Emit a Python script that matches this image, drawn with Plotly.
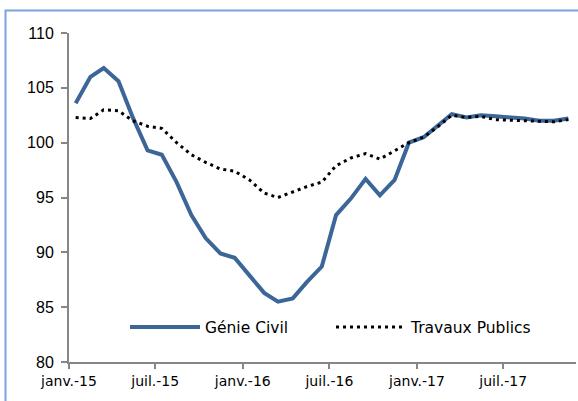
import plotly.graph_objects as go
import pandas as pd

months = pd.date_range("2015-01-01", periods=35, freq="MS") + pd.Timedelta(days=14)
months = [d.strftime("%Y-%m-%d") for d in months]

genie_civil = [103.6, 106.0, 106.8, 105.6, 102.3, 99.3, 98.9, 96.4, 93.4, 91.3,
               89.9, 89.5, 87.9, 86.3, 85.5, 85.8, 87.3, 88.7, 93.4, 94.9,
               96.7, 95.2, 96.6, 100.0, 100.5, 101.6, 102.6, 102.3, 102.5, 102.4,
               102.3, 102.2, 102.0, 102.0, 102.2]
travaux_publics = [102.3, 102.2, 103.0, 102.9, 102.0, 101.5, 101.3, 100.0, 98.9, 98.2,
                   97.6, 97.4, 96.6, 95.4, 95.0, 95.5, 96.0, 96.4, 97.9, 98.6,
                   99.0, 98.5, 99.3, 100.0, 100.5, 101.5, 102.5, 102.3, 102.4, 102.1,
                   102.05, 102.0, 101.9, 101.9, 102.1]

tick_vals = ["2015-01-01", "2015-07-01", "2016-01-01", "2016-07-01", "2017-01-01", "2017-07-01"]
tick_text = ["janv.-15", "juil.-15", "janv.-16", "juil.-16", "janv.-17", "juil.-17"]
y_ticks = [80, 85, 90, 95, 100, 105, 110]

fig = go.Figure()
fig.add_trace(go.Scatter(x=months, y=genie_civil, mode="lines", name="Génie Civil",
                         line=dict(color="#3c6697", width=4)))
fig.add_trace(go.Scatter(x=months, y=travaux_publics, mode="lines", name="Travaux Publics",
                         line=dict(color="#000000", width=3, dash="3px,4px")))

L, R, T, B = 69, 2, 33, 39
W, H = 578, 401
pw, ph = W - L - R, H - T - B

fig.update_layout(
    width=W, height=H,
    margin=dict(l=L, r=R, t=T, b=B, pad=0),
    paper_bgcolor="white", plot_bgcolor="white",
    showlegend=True,
    legend=dict(orientation="h", x=(131 - L - 6) / pw, xanchor="left", y=0.105, yanchor="middle",
                font=dict(family="DejaVu Sans", size=15.5, color="#000"),
                itemwidth=70, entrywidth=121, entrywidthmode="pixels",
                bgcolor="rgba(0,0,0,0)", tracegroupgap=0),
    xaxis=dict(type="date", range=["2015-01-01", "2017-12-01"],
               tickvals=tick_vals, ticktext=tick_text,
               ticks="outside", ticklen=5, tickwidth=2, tickcolor="#868686",
               showline=True, linecolor="#868686", linewidth=2,
               showgrid=False, zeroline=False,
               tickfont=dict(family="DejaVu Sans", size=14, color="#000")),
    yaxis=dict(range=[80, 110], tickvals=y_ticks,
               ticks="outside", ticklen=6, tickwidth=2, tickcolor="#868686",
               showline=True, linecolor="#868686", linewidth=2,
               showgrid=False, zeroline=False, ticklabelstandoff=4,
               tickfont=dict(family="Liberation Sans, Arial", size=16, color="#000")),
    shapes=[dict(type="rect", xref="paper", yref="paper",
                 x0=(5.5 - L) / pw, x1=(W + 5 - L) / pw,
                 y0=(H - B - (H + 5)) / ph, y1=(H - B - 10.5) / ph,
                 line=dict(color="#79a5dc", width=2), fillcolor="rgba(0,0,0,0)", layer="below")],
)

fig.write_html("out.html", config={"displayModeBar": False},
               post_script="document.body.style.margin='0';")
